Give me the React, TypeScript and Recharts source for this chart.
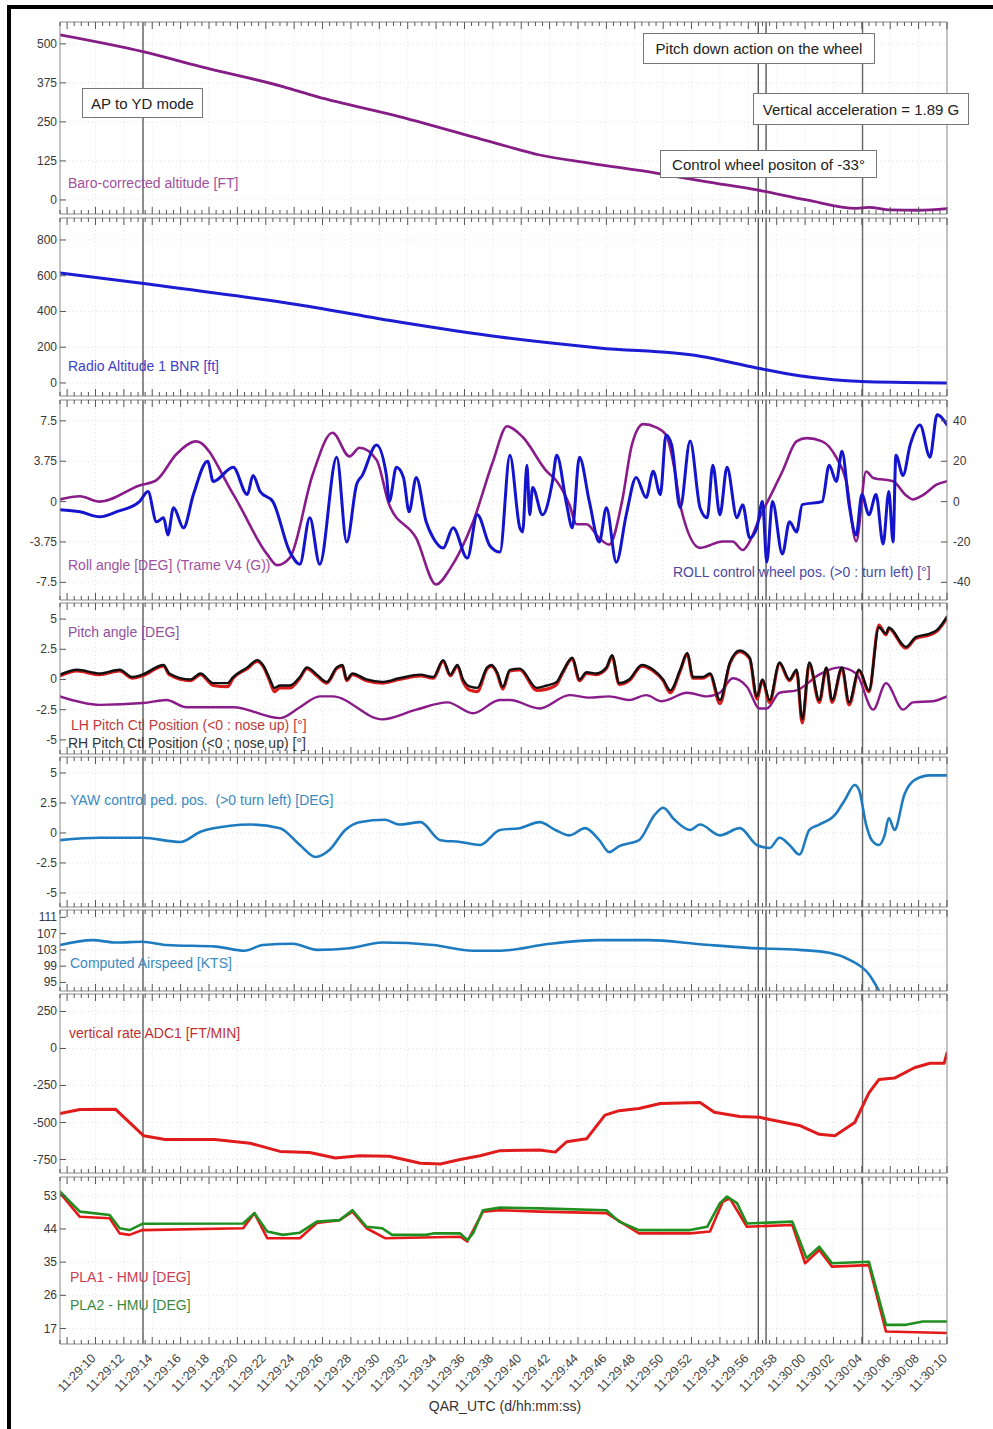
import React from 'react';
import { LineChart, Line, XAxis, YAxis, ReferenceLine, CartesianGrid } from 'recharts';

type Pt = [number, number];

// ---------- time axis (seconds after 11:29:00) ----------
const X_DOMAIN: [number, number] = [7.5, 70];
const TIME_TICKS = [10, 12, 14, 16, 18, 20, 22, 24, 26, 28, 30, 32, 34, 36, 38, 40, 42, 44, 46, 48, 50, 52, 54, 56, 58, 60, 62, 64, 66, 68, 70];
const TIME_LABELS = ['11:29:10', '11:29:12', '11:29:14', '11:29:16', '11:29:18', '11:29:20', '11:29:22', '11:29:24', '11:29:26', '11:29:28', '11:29:30', '11:29:32', '11:29:34', '11:29:36', '11:29:38', '11:29:40', '11:29:42', '11:29:44', '11:29:46', '11:29:48', '11:29:50', '11:29:52', '11:29:54', '11:29:56', '11:29:58', '11:30:00', '11:30:02', '11:30:04', '11:30:06', '11:30:08', '11:30:10'];
const MINOR_TICKS = Array.from({ length: 126 }, (_, i) => 7.5 + i * 0.5);
const EVENT_TIMES = [13.35, 56.7, 57.25, 64.05];

// ---------- y ticks ----------
const BARO_TICKS = [0, 125, 250, 375, 500];
const RADIO_TICKS = [0, 200, 400, 600, 800];
const ROLL_TICKS = [-7.5, -3.75, 0, 3.75, 7.5];
const WHEEL_TICKS = [-40, -20, 0, 20, 40];
const PITCH_TICKS = [-5, -2.5, 0, 2.5, 5];
const YAW_TICKS = [-5, -2.5, 0, 2.5, 5];
const CAS_TICKS = [95, 99, 103, 107, 111];
const VS_TICKS = [-750, -500, -250, 0, 250];
const PLA_TICKS = [17, 26, 35, 44, 53];

// ---------- series [time, value] ----------
const BARO_ALT: Pt[] = [[7.5, 529], [13.35, 475], [17.4, 427], [23.2, 363], [25.6, 331], [31.4, 267], [38.5, 178], [41.3, 144], [44.8, 118], [49.5, 86], [53.1, 58], [56.6, 32], [60.1, 0], [63.6, -27], [64.5, -24], [66, -32], [68, -33], [70, -28]];

const RADIO_ALT: Pt[] = [[7.5, 615], [13.4, 556], [24.4, 436], [31.4, 341], [38.5, 257], [45.5, 196], [52.6, 150], [56.6, 84], [59.6, 40], [62, 18], [64, 8], [67, 3], [70, 0]];

const ROLL_ANGLE: Pt[] = [[7.5, 0.2], [8.9, 0.5], [10.3, 0.0], [13.1, 1.5], [14.3, 2.0], [15.7, 4.4], [17.1, 5.6], [19.7, 0.7], [22.1, -4.9], [22.8, -5.9], [23.7, -5.2], [25.3, 2.5], [26.7, 6.4], [27.9, 4.2], [28.6, 5.0], [29.8, 3.9], [30.7, -0.3], [32.6, -3.4], [34.0, -7.7], [35.0, -6.2], [36.6, -1.9], [38.0, 3.7], [39.0, 7.0], [40.1, 6.0], [41.8, 2.8], [42.5, 1.9], [43.4, -0.3], [43.9, -2.1], [44.6, -2.1], [45.5, -3.4], [46.2, -4.0], [47.1, 0], [47.8, 5.3], [48.6, 7.2], [49.5, 6.9], [50.2, 6.2], [50.8, 3.0], [51.2, -0.3], [52.6, -4.3], [54.2, -3.7], [54.9, -3.7], [55.6, -4.5], [56.1, -3.7], [56.8, -1.5], [57.7, 0.9], [58.4, 2.8], [59.4, 5.6], [60.1, 5.9], [61.2, 5.6], [62.2, 4.1], [62.9, 1.9], [63.6, -3.7], [64.3, 2.8], [64.8, 2.2], [66.2, 1.9], [67.1, 0.6], [67.6, 0.2], [68.3, 0.6], [69.3, 1.6], [70, 1.9]];

const ROLL_WHEEL: Pt[] = [[7.5, -4], [8.9, -5], [10.3, -7.5], [11.5, -5], [13.1, 0], [13.7, 5], [14.3, -10], [14.8, -8], [15.1, -16.5], [15.5, -3], [16.2, -13], [16.9, 3.5], [17.9, 20], [18.3, 10], [19.7, 17], [20.7, 3.5], [21.1, 13], [21.6, 5], [22.5, 0], [23.7, -25], [24.4, -31], [25.1, -8], [25.8, -31], [27.0, 22], [27.7, -20], [28.4, 8.5], [28.8, 13], [29.8, 28], [30.5, 13], [30.7, 0], [31.2, 17], [31.7, 12], [32.1, -5], [32.6, 12], [33.3, -10], [33.8, -18], [34.5, -23], [35.2, -13], [36.2, -28], [36.9, -6.5], [37.8, -22], [38.5, -25], [39.2, 23], [39.9, -13], [40.1, -15], [40.4, 18], [40.6, -6.5], [40.8, 7], [41.5, -6.5], [42.2, 10], [42.5, 23], [43.2, -1.5], [43.6, -13], [44.1, 22], [44.8, 0], [45.5, -20], [46.0, -3], [46.7, -30], [47.4, -6.5], [48.1, 12], [48.8, 2], [49.3, 15], [49.8, 3.5], [50.2, 33], [50.6, 28], [51.2, -3], [51.9, 30], [52.6, -3], [53.1, -8], [53.5, 18], [54.0, -6.5], [54.5, 17], [55.2, -8], [55.6, -1.5], [56.1, -18], [56.6, -13], [57.0, 0], [57.3, -30], [57.7, 0], [58.4, -26], [58.9, -10], [59.4, -15], [59.8, -1.5], [61.2, 0], [61.7, 18], [62.2, 10], [62.6, 25], [63.1, -1.5], [63.6, -16.5], [64.0, 3.5], [64.5, -6.5], [65.0, 3.5], [65.5, -21], [65.9, 5], [66.2, -20], [66.4, 23], [66.9, 13], [67.4, 28], [68.1, 38], [68.8, 22], [69.3, 43], [70, 38]];

const PITCH_ANGLE: Pt[] = [[7.5, -1.4], [10.3, -2.1], [13.35, -1.95], [15.0, -1.7], [16.4, -2.3], [19.7, -2.3], [23.0, -3.2], [24.4, -2.3], [25.8, -1.4], [26.7, -1.4], [30.2, -3.3], [32.6, -2.5], [34.8, -1.9], [36.6, -2.8], [38.5, -1.7], [39.2, -1.7], [41.3, -2.4], [43.4, -1.3], [44.8, -1.5], [46.2, -1.4], [47.6, -1.7], [48.8, -1.3], [49.9, -1.8], [51.7, -1.1], [53.1, -1.4], [54.0, -1.1], [54.9, 0.1], [55.9, -0.6], [56.8, -2.4], [57.3, -2.4], [58.2, -1.1], [59.4, -0.9], [61.0, 0.4], [62.4, 1.0], [63.6, 0.5], [64.8, -2.5], [65.7, -0.3], [66.9, -2.5], [67.6, -1.9], [69.0, -1.8], [70, -1.4]];

const RH_PITCH_CTL: Pt[] = [[7.5, 0.4], [8.7, 0.8], [10.3, 0.5], [11.7, 0.8], [12.6, 0.2], [13.3, 0.4], [14.8, 1.2], [15.2, 0.5], [16.7, 0], [17.4, 0.5], [18.3, -0.3], [19.3, -0.3], [19.7, 0.2], [20.7, 1.0], [21.4, 1.6], [21.8, 1.2], [22.3, 0], [22.6, -0.7], [23.0, -0.5], [23.7, -0.5], [24.4, 0.2], [24.9, 1.0], [25.6, 0.4], [26.3, -0.2], [27.0, 1.0], [27.4, 1.2], [27.7, 0], [28.1, 0.5], [29.1, 0], [30.2, -0.2], [31.4, 0.1], [32.9, 0.4], [33.8, 0.2], [34.5, 1.6], [35.0, 0.4], [35.5, 1.2], [35.9, 0], [36.4, -0.6], [36.9, -0.7], [37.6, 1.0], [37.9, 1.2], [38.3, 0.6], [38.7, -0.6], [39.2, 0.8], [39.9, 0.9], [41.1, -0.7], [41.8, -0.5], [42.5, -0.2], [42.9, 0.6], [43.6, 1.8], [44.1, 0], [44.6, 0.6], [45.3, 0.5], [46.0, 1.0], [46.4, 2.0], [46.9, -0.3], [47.6, 0], [48.5, 1.2], [49.3, 0.8], [50.0, 0], [50.5, -0.9], [51.2, 0.8], [51.7, 2.2], [52.1, 0.2], [52.8, 0.2], [53.3, 0.5], [54.0, -1.7], [54.7, 1.4], [55.4, 2.4], [56.1, 1.8], [56.6, -1.4], [57.0, 0], [57.5, -1.7], [58.2, 1.4], [58.9, 0], [59.4, 0.8], [59.8, -3.3], [60.3, 1.4], [61.0, -1.7], [61.5, 1.0], [61.9, -1.7], [62.6, 1.0], [63.1, -1.9], [63.8, 0.8], [64.5, -0.9], [65.2, 4.3], [65.7, 3.8], [65.9, 4.3], [67.1, 2.7], [67.8, 3.5], [68.8, 3.8], [69.3, 4.1], [70, 5.2]];

const LH_PITCH_CTL: Pt[] = [[7.5, 0.3], [8.7, 0.7], [10.3, 0.4], [11.7, 0.7], [12.6, 0.1], [13.3, 0.3], [14.8, 1.1], [15.2, 0.4], [16.7, -0.1], [17.4, 0.4], [18.3, -0.5], [19.3, -0.6], [19.7, 0.1], [20.7, 0.9], [21.4, 1.5], [21.8, 1.1], [22.3, -0.2], [22.6, -1.0], [23.0, -0.7], [23.7, -0.7], [24.4, 0.1], [24.9, 0.9], [25.6, 0.3], [26.3, -0.3], [27.0, 0.9], [27.4, 1.1], [27.7, -0.1], [28.1, 0.4], [29.1, -0.1], [30.2, -0.3], [31.4, 0], [32.9, 0.3], [33.8, 0.1], [34.5, 1.5], [35.0, 0.3], [35.5, 1.1], [35.9, -0.2], [36.4, -0.9], [36.9, -1.0], [37.6, 0.9], [37.9, 1.1], [38.3, 0.5], [38.7, -0.8], [39.2, 0.7], [39.9, 0.8], [41.1, -0.9], [41.8, -0.8], [42.5, -0.4], [42.9, 0.5], [43.6, 1.7], [44.1, -0.1], [44.6, 0.5], [45.3, 0.4], [46.0, 0.9], [46.4, 1.9], [46.9, -0.4], [47.6, -0.1], [48.5, 1.1], [49.3, 0.7], [50.0, -0.1], [50.5, -1.1], [51.2, 0.7], [51.7, 2.1], [52.1, 0.1], [52.8, 0.1], [53.3, 0.4], [54.0, -2.0], [54.7, 1.3], [55.4, 2.3], [56.1, 1.7], [56.6, -1.6], [57.0, -0.1], [57.5, -1.9], [58.2, 1.3], [58.9, -0.1], [59.4, 0.7], [59.8, -3.6], [60.3, 1.3], [61.0, -1.9], [61.5, 0.9], [61.9, -1.9], [62.6, 0.9], [63.1, -2.1], [63.8, 0.7], [64.5, -1.0], [65.2, 4.5], [65.7, 3.7], [65.9, 4.2], [67.1, 2.6], [67.8, 3.4], [68.8, 3.7], [69.3, 4.0], [70, 5.1]];

const YAW_PEDAL: Pt[] = [[7.5, -0.6], [10.3, -0.4], [13.3, -0.4], [16.0, -0.75], [17.4, 0.1], [19.5, 0.6], [20.9, 0.7], [23.0, 0.4], [24.4, -1.0], [25.5, -2.0], [26.5, -1.4], [27.6, 0.25], [28.6, 0.9], [30.4, 1.1], [31.4, 0.7], [32.9, 0.9], [34.3, -0.6], [35.7, -0.75], [37.1, -1.0], [38.5, 0.25], [39.9, 0.4], [41.3, 0.9], [42.4, 0.25], [43.4, -0.2], [44.5, 0.4], [45.5, -0.6], [46.2, -1.6], [46.9, -1.1], [48.3, -0.6], [49.4, 1.5], [50.0, 2.1], [50.8, 1.1], [51.9, 0.25], [52.6, 0.7], [54.0, -0.2], [55.4, 0.4], [56.6, -1.0], [57.5, -1.25], [58.2, -0.4], [58.9, -1.0], [59.6, -1.8], [60.3, 0.25], [61.0, 0.7], [62.1, 1.5], [62.8, 2.75], [63.5, 4.0], [63.8, 3.6], [64.3, 0.7], [64.7, -0.6], [65.2, -1.0], [65.6, -0.2], [65.9, 1.25], [66.3, 0.25], [67.0, 3.2], [67.7, 4.4], [68.8, 4.8], [70, 4.8]];

const AIRSPEED: Pt[] = [[7.5, 104.2], [9.8, 105.4], [11.5, 104.8], [13.3, 105], [15.0, 104.2], [18.5, 103.8], [20.5, 102.8], [21.8, 104.2], [23.9, 104.5], [25.6, 103], [27.9, 103.4], [30.2, 104.8], [33.8, 104.2], [36.6, 102.8], [38.5, 102.8], [42, 104.5], [45.5, 105.4], [49, 105.4], [52.6, 104.4], [56, 103.5], [59.6, 103], [61.7, 102.3], [63.1, 100.6], [64.5, 97], [65.2, 93]];

const VERT_RATE: Pt[] = [[7.5, -440], [8.9, -412], [11.4, -410], [13.4, -590], [14.9, -615], [18.4, -615], [20.9, -640], [23.0, -695], [25.1, -703], [26.9, -740], [28.6, -725], [30.7, -728], [32.9, -775], [34.3, -780], [35.7, -750], [37.1, -725], [38.5, -690], [41.3, -685], [42.4, -700], [43.2, -630], [44.6, -610], [45.9, -450], [46.9, -420], [48.3, -405], [49.8, -372], [52.6, -365], [53.6, -430], [55.4, -460], [56.8, -465], [57.5, -480], [59.6, -520], [61.0, -580], [62.1, -590], [63.5, -500], [64.5, -300], [65.2, -210], [66.3, -200], [67.7, -130], [68.8, -100], [69.8, -100], [70, -30]];

const PLA1: Pt[] = [[7.5, 53.8], [8.9, 47.3], [11.0, 46.9], [11.7, 42.8], [12.4, 42.4], [13.3, 43.7], [20.4, 44.2], [21.2, 48.3], [22.1, 41.5], [24.4, 41.5], [25.6, 45.6], [27.2, 46.4], [28.1, 48.7], [29.1, 44.2], [30.4, 41.5], [35.7, 41.9], [36.2, 40.6], [37.3, 48.7], [38.5, 49.1], [41.3, 48.7], [46.0, 48.3], [48.3, 42.8], [51.9, 42.8], [53.3, 43.3], [54.2, 51.4], [54.7, 52.3], [55.9, 44.6], [59.1, 45.1], [60.0, 34.7], [61.0, 38.3], [61.9, 33.8], [64.5, 34.2], [65.7, 16.2], [70, 15.8]];

const PLA2: Pt[] = [[7.5, 54.1], [8.9, 48.7], [11.0, 47.8], [11.7, 44.2], [12.4, 43.7], [13.3, 45.4], [20.4, 45.5], [21.2, 48.3], [22.1, 43.3], [23.2, 42.4], [24.4, 43.0], [25.6, 46.0], [27.2, 46.4], [28.1, 49.1], [29.1, 44.6], [30.2, 44.2], [30.9, 42.4], [33.3, 42.4], [33.8, 42.8], [35.7, 42.8], [36.2, 41.0], [36.6, 42.8], [37.3, 49.1], [38.5, 49.8], [41.3, 49.6], [46.0, 49.1], [46.9, 46.0], [48.3, 43.7], [51.9, 43.7], [53.1, 44.6], [54.0, 51.0], [54.5, 52.8], [55.2, 51.0], [55.9, 45.5], [59.1, 46.0], [60.1, 36.1], [61.0, 39.2], [61.9, 34.7], [64.5, 35.1], [65.7, 18.0], [67.1, 18.0], [68.3, 18.9], [70, 18.9]];

// ---------- layout ----------
const W = 993;
const FRAME = '#8a8a8a';
const TICK = '#555';
const FONT = '"Liberation Sans", Arial, Helvetica, sans-serif';

type Series = { pts: Pt[]; color: string; width: number; axis?: 'l' | 'r'; curve?: 'monotone' | 'linear' };
type PanelDef = {
  top: number; bottom: number; domain: [number, number]; ticks: number[];
  right?: { domain: [number, number]; ticks: number[] };
  series: Series[];
};

const PANELS: PanelDef[] = [
  { top: 22, bottom: 214, domain: [-45, 570], ticks: BARO_TICKS,
    series: [{ pts: BARO_ALT, color: '#861c86', width: 2.8, curve: 'monotone' }] },
  { top: 218, bottom: 396, domain: [-73, 923], ticks: RADIO_TICKS,
    series: [{ pts: RADIO_ALT, color: '#1c1cd2', width: 3, curve: 'monotone' }] },
  { top: 400, bottom: 600, domain: [-9.14, 9.44], ticks: ROLL_TICKS,
    right: { domain: [-48.75, 50.35], ticks: WHEEL_TICKS },
    series: [
      { pts: ROLL_ANGLE, color: '#8a1c8a', width: 2.6, curve: 'monotone' },
      { pts: ROLL_WHEEL, color: '#1414cc', width: 3, axis: 'r', curve: 'monotone' },
    ] },
  { top: 603, bottom: 754, domain: [-6.17, 6.33], ticks: PITCH_TICKS,
    series: [
      { pts: PITCH_ANGLE, color: '#8a1c8a', width: 2.4, curve: 'monotone' },
      { pts: LH_PITCH_CTL, color: '#d81c1c', width: 3.2, curve: 'monotone' },
      { pts: RH_PITCH_CTL, color: '#111111', width: 2.4, curve: 'monotone' },
    ] },
  { top: 757, bottom: 907, domain: [-6.17, 6.33], ticks: YAW_TICKS,
    series: [{ pts: YAW_PEDAL, color: '#1f7bbf', width: 2.6, curve: 'monotone' }] },
  { top: 910, bottom: 991, domain: [92.9, 112.8], ticks: CAS_TICKS,
    series: [{ pts: AIRSPEED, color: '#1f7bbf', width: 2.6, curve: 'monotone' }] },
  { top: 994, bottom: 1173, domain: [-841, 368], ticks: VS_TICKS,
    series: [{ pts: VERT_RATE, color: '#e01b1b', width: 3, curve: 'linear' }] },
  { top: 1177, bottom: 1344, domain: [12.8, 58.1], ticks: PLA_TICKS,
    series: [
      { pts: PLA1, color: '#e41a1a', width: 2.6, curve: 'linear' },
      { pts: PLA2, color: '#1f8f1f', width: 2.6, curve: 'linear' },
    ] },
];

const LABELS = [
  { text: 'Baro-corrected altitude [FT]', x: 68, y: 175, color: '#a050a0' },
  { text: 'Radio Altitude 1 BNR [ft]', x: 68, y: 358, color: '#4040c8' },
  { text: 'Roll angle [DEG] (Trame V4 (G))', x: 68, y: 557, color: '#a050a0' },
  { text: 'ROLL control wheel pos. (>0 : turn left) [°]', x: 673, y: 564, color: '#4a4aa0' },
  { text: 'Pitch angle [DEG]', x: 68, y: 624, color: '#9050a0' },
  { text: 'LH Pitch Ctl Position (<0 : nose up) [°]', x: 71, y: 717, color: '#c03a3a' },
  { text: 'RH Pitch Ctl Position (<0 ; nose up) [°]', x: 68, y: 735, color: '#333333' },
  { text: 'YAW control ped. pos.  (>0 turn left) [DEG]', x: 70, y: 792, color: '#3a8ac0' },
  { text: 'Computed Airspeed [KTS]', x: 70, y: 955, color: '#3a8ac0' },
  { text: 'vertical rate ADC1 [FT/MIN]', x: 69, y: 1025, color: '#c03030' },
  { text: 'PLA1 - HMU [DEG]', x: 70, y: 1269, color: '#c84050' },
  { text: 'PLA2 - HMU [DEG]', x: 70, y: 1297, color: '#3a8a3a' },
];

const BOXES = [
  { text: 'AP to YD mode', x: 82, y: 88, w: 121, h: 30 },
  { text: 'Pitch down action on the wheel', x: 643, y: 33, w: 232, h: 31 },
  { text: 'Vertical acceleration = 1.89 G', x: 753, y: 93, w: 216, h: 32 },
  { text: 'Control wheel positon of -33°', x: 660, y: 150, w: 217, h: 28 },
];

const isMajor = (v: number) => Math.abs(v / 2 - Math.round(v / 2)) < 1e-6;

const makeXTick = (dir: 1 | -1, withLabels: boolean) => (props: any) => {
  const { x, y, payload } = props;
  const v = payload.value as number;
  const len = isMajor(v) ? 7 : 4;
  const idx = TIME_TICKS.indexOf(v);
  const lx = x + 1;
  const ly = y + 15;
  return (
    <g>
      <line x1={x} x2={x} y1={y} y2={y + dir * len} stroke={TICK} strokeWidth={1} />
      {withLabels && idx >= 0 ? (
        <text x={lx} y={ly} textAnchor="end" fontSize={12.5} fontFamily={FONT} fill="#444"
          transform={`rotate(-45 ${lx} ${ly})`}>{TIME_LABELS[idx]}</text>
      ) : null}
    </g>
  );
};

const leftYTick = (props: any) => {
  const { x, y, payload } = props;
  return (
    <g>
      <line x1={x} x2={x + 6} y1={y} y2={y} stroke={TICK} strokeWidth={1} />
      <text x={x - 3} y={y + 4} textAnchor="end" fontSize={12} fontFamily={FONT} fill="#383838">{String(payload.value)}</text>
    </g>
  );
};

const rightYTick = (props: any) => {
  const { x, y, payload } = props;
  return (
    <g>
      <line x1={x - 6} x2={x} y1={y} y2={y} stroke={TICK} strokeWidth={1} />
      <text x={x + 6} y={y + 4} textAnchor="start" fontSize={12} fontFamily={FONT} fill="#383838">{String(payload.value)}</text>
    </g>
  );
};

const EVENT_STYLE = [
  { color: '#8c8c8c', width: 2 },
  { color: '#3c3c3c', width: 1.2 },
  { color: '#3c3c3c', width: 1.2 },
  { color: '#666666', width: 1.4 },
];

function PanelChart({ p, last }: { p: PanelDef; last: boolean }) {
  const plotH = p.bottom - p.top;
  const extra = last ? 80 : 0;
  const h = plotH + 2 + extra;
  const rightDomain = p.right ? p.right.domain : p.domain;
  return (
    <div style={{ position: 'absolute', left: 0, top: p.top - 1, width: W, height: h }}>
      <LineChart width={W} height={h} margin={{ top: 0, right: 0, bottom: extra, left: 0 }}>
        <CartesianGrid xAxisId="b" yAxisId="l" stroke="#e2e2e2" strokeDasharray="1 3"
          verticalValues={TIME_TICKS} horizontalValues={p.ticks} />
        <XAxis xAxisId="b" type="number" dataKey="t" domain={X_DOMAIN} allowDataOverflow
          ticks={MINOR_TICKS} interval={0} height={1} tickSize={0} tickMargin={0}
          tickLine={false} axisLine={{ stroke: FRAME }} tick={makeXTick(-1, last)} />
        <XAxis xAxisId="t" orientation="top" type="number" dataKey="t" domain={X_DOMAIN} allowDataOverflow
          ticks={MINOR_TICKS} interval={0} height={1} tickSize={0} tickMargin={0}
          tickLine={false} axisLine={{ stroke: FRAME }} tick={makeXTick(1, false)} />
        <YAxis yAxisId="l" type="number" width={60} domain={p.domain} allowDataOverflow
          ticks={p.ticks} interval={0} tickSize={0} tickMargin={0} tickLine={false}
          axisLine={{ stroke: FRAME }} tick={leftYTick} />
        <YAxis yAxisId="r" orientation="right" type="number" width={46} domain={rightDomain} allowDataOverflow
          ticks={p.right ? p.right.ticks : []} interval={0} tickSize={0} tickMargin={0} tickLine={false}
          axisLine={{ stroke: FRAME }} tick={p.right ? rightYTick : false} />
        {EVENT_TIMES.map((t, i) => (
          <ReferenceLine key={'ev' + i} xAxisId="b" yAxisId="l" x={t}
            stroke={EVENT_STYLE[i].color} strokeWidth={EVENT_STYLE[i].width} />
        ))}
        {p.series.map((s, i) => (
          <Line key={'s' + i} data={s.pts.map(([t, v]) => ({ t, v }))} dataKey="v"
            xAxisId="b" yAxisId={s.axis ?? 'l'} type={s.curve ?? 'monotone'}
            stroke={s.color} strokeWidth={s.width} dot={false} activeDot={false}
            strokeLinejoin="round" strokeLinecap="round" isAnimationActive={false} />
        ))}
      </LineChart>
    </div>
  );
}

export default function App() {
  return (
    <div style={{ position: 'absolute', left: 0, top: 0, width: W, height: 1429, background: '#fff', fontFamily: FONT, overflow: 'hidden' }}>
      {PANELS.map((p, i) => (
        <PanelChart key={i} p={p} last={i === PANELS.length - 1} />
      ))}
      {LABELS.map((l, i) => (
        <div key={'lab' + i} style={{ position: 'absolute', left: l.x, top: l.y, fontSize: 14, lineHeight: '16px', color: l.color, whiteSpace: 'pre' }}>{l.text}</div>
      ))}
      {BOXES.map((b, i) => (
        <div key={'box' + i} style={{ position: 'absolute', left: b.x, top: b.y, width: b.w, height: b.h, boxSizing: 'border-box', border: '1px solid #777', background: '#fff', display: 'flex', alignItems: 'center', justifyContent: 'center', fontSize: 15, color: '#222', whiteSpace: 'nowrap' }}>{b.text}</div>
      ))}
      <div style={{ position: 'absolute', left: 0, width: 1010, top: 1398, textAlign: 'center', fontSize: 14, color: '#333' }}>QAR_UTC (d/hh:mm:ss)</div>
      <div style={{ position: 'absolute', left: 7, top: 5, width: 986, height: 4, background: '#000' }} />
      <div style={{ position: 'absolute', left: 7, top: 5, width: 4, height: 1424, background: '#000' }} />
    </div>
  );
}
